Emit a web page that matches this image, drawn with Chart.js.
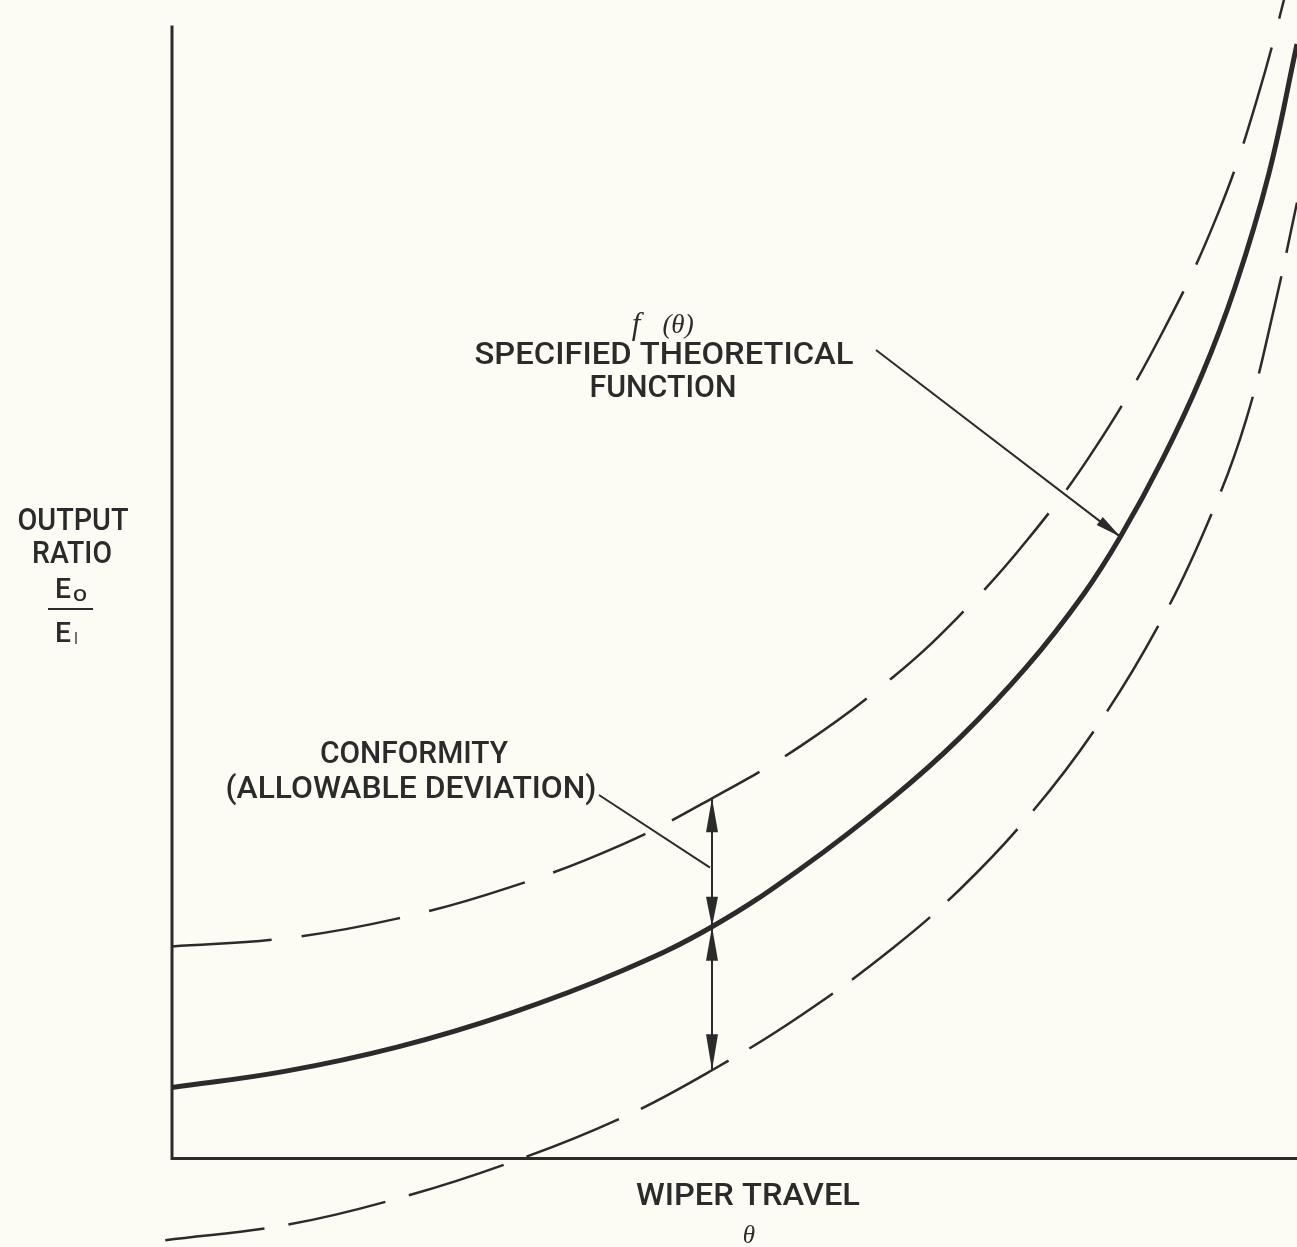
<!DOCTYPE html>
<html>
<head>
<meta charset="utf-8">
<script src="https://cdn.jsdelivr.net/npm/chart.js@4.4.1/dist/chart.umd.min.js"></script>
<style>
  html, body { margin: 0; padding: 0; background: #fdfcf4; }
  #wrap { position: relative; width: 1297px; height: 1247px; }
</style>
</head>
<body>
<div id="wrap"><canvas id="chart"></canvas></div>
<script>
// Wiper travel θ (% of travel) and output ratio Eo/Ei (% of axis height)
const solidTheta = [0, 10, 20, 30, 40, 48, 56, 64, 70, 76, 81, 84.3, 88, 91.5, 94.5, 97.5, 100];
const solidRatio = [6.0, 7.4, 9.5, 12.4, 16.1, 19.9, 25.0, 31.0, 36.2, 42.4, 48.6, 53.6, 60.2, 67.5, 75.2, 85.0, 96.2];

const upperTheta = [0, 10, 20, 30, 40, 48, 56, 64, 70, 76, 82, 88, 93, 96.5, 99.9];
const upperRatio = [18.2, 18.9, 20.6, 23.3, 27.0, 31.0, 35.6, 41.4, 46.8, 53.3, 61.2, 71.2, 81.6, 91.6, 104];

const lowerTheta = [-0.6, 10, 20, 30, 40, 48, 56, 64, 70, 76, 82, 88, 92.5, 95.5, 98, 100];
const lowerRatio = [-7.2, -5.9, -3.6, -0.5, 3.4, 7.5, 12.3, 18.0, 23.1, 29.3, 36.9, 46.5, 55.8, 63.8, 73.5, 82.5];

const CONFORMITY_THETA = 48;    // where the deviation arrows stand
const POINTER_THETA = 84.3;     // where the "specified function" arrow lands
const AXIS_TOP = 97.8;          // top end of the ratio axis line

const INK  = '#2b2b2b';
const FONT = 'Roboto, "Liberation Sans", Arial, sans-serif';
const SERIF = '"Liberation Serif", "DejaVu Serif", serif';

const toPoints = (xs, ys) => xs.map((x, i) => ({ x, y: ys[i] }));
const valueAt  = (xs, ys, x) => ys[xs.indexOf(x)];

// text squeezed to a given width, like the condensed lettering of the original
function fitText(ctx, text, cx, cy, size, width, font) {
    ctx.font = font || `500 ${size}px ${FONT}`;
    const w  = ctx.measureText(text).width;
    const sx = width ? width / w : 1;
    ctx.save();
    ctx.translate(cx, cy);
    ctx.scale(sx, 1);
    ctx.textAlign = 'center';
    ctx.textBaseline = 'middle';
    ctx.fillText(text, 0, 0);
    ctx.restore();
}

function arrowHead(ctx, fromX, fromY, tipX, tipY, len, half) {
    const a  = Math.atan2(tipY - fromY, tipX - fromX);
    const bx = tipX - len * Math.cos(a);
    const by = tipY - len * Math.sin(a);
    const nx = -Math.sin(a) * half;
    const ny =  Math.cos(a) * half;
    ctx.beginPath();
    ctx.moveTo(tipX, tipY);
    ctx.lineTo(bx + nx, by + ny);
    ctx.lineTo(bx - nx, by - ny);
    ctx.closePath();
    ctx.fill();
}

// ── axes (drawn under the curves) ───────────────────────────────────────────
const axesPlugin = {
    id: 'axes',
    beforeDatasetsDraw(chart) {
        const { ctx, scales: { x, y } } = chart;
        const x0 = x.getPixelForValue(0);
        const y0 = y.getPixelForValue(0);
        ctx.save();
        ctx.strokeStyle = INK;
        ctx.lineWidth = 3;
        ctx.beginPath();
        ctx.moveTo(x0, y.getPixelForValue(AXIS_TOP));
        ctx.lineTo(x0, y0 + 1.5);
        ctx.lineTo(x.getPixelForValue(x.max), y0 + 1.5);
        ctx.stroke();
        ctx.restore();
    }
};

// ── labels and arrows ───────────────────────────────────────────────────────
const notesPlugin = {
    id: 'notes',
    afterDatasetsDraw(chart) {
        const { ctx, scales: { x, y } } = chart;
        ctx.save();
        ctx.fillStyle = INK;
        ctx.strokeStyle = INK;

        // y-axis title
        fitText(ctx, 'OUTPUT', 73, 522, 32, 111);
        fitText(ctx, 'RATIO', 72, 555, 32, 80);
        fitText(ctx, 'E', 63, 591, 27, 16);
        fitText(ctx, 'O', 80, 597, 16, 14);
        ctx.lineWidth = 2;
        ctx.beginPath();
        ctx.moveTo(48, 609);
        ctx.lineTo(93, 609);
        ctx.stroke();
        fitText(ctx, 'E', 63, 635, 27, 16);
        fitText(ctx, 'I', 76, 640, 16, 3);

        // x-axis title
        fitText(ctx, 'WIPER TRAVEL', 748, 1197, 32, 224);
        ctx.font = `italic 25px ${SERIF}`;
        ctx.textAlign = 'center';
        ctx.textBaseline = 'middle';
        ctx.fillText('θ', 749, 1236);

        // theoretical function note
        ctx.font = `italic 31px ${SERIF}`;
        ctx.fillText('f', 636, 326);
        ctx.font = `italic 27px ${SERIF}`;
        ctx.fillText('(θ)', 678, 326);
        fitText(ctx, 'SPECIFIED THEORETICAL', 664, 356, 32, 379);
        fitText(ctx, 'FUNCTION', 663, 389, 32, 147);

        const px = x.getPixelForValue(POINTER_THETA);
        const py = y.getPixelForValue(valueAt(solidTheta, solidRatio, POINTER_THETA));
        ctx.lineWidth = 2;
        ctx.beginPath();
        ctx.moveTo(876, 350);
        ctx.lineTo(px, py);
        ctx.stroke();
        arrowHead(ctx, 876, 350, px, py, 26, 5);

        // conformity note
        fitText(ctx, 'CONFORMITY', 414, 755, 32, 188);
        fitText(ctx, '(ALLOWABLE DEVIATION)', 411, 790, 32, 371);

        const cx   = x.getPixelForValue(CONFORMITY_THETA);
        const yUp  = y.getPixelForValue(valueAt(upperTheta, upperRatio, CONFORMITY_THETA));
        const yMid = y.getPixelForValue(valueAt(solidTheta, solidRatio, CONFORMITY_THETA));
        const yLo  = y.getPixelForValue(valueAt(lowerTheta, lowerRatio, CONFORMITY_THETA));

        ctx.lineWidth = 2;
        ctx.beginPath();
        ctx.moveTo(599, 795);
        ctx.lineTo(cx - 2, yUp + (yMid - yUp) * 0.54);
        ctx.stroke();

        ctx.beginPath();
        ctx.moveTo(cx, yUp);
        ctx.lineTo(cx, yLo);
        ctx.stroke();
        arrowHead(ctx, cx, yMid, cx, yUp, 34, 6);
        arrowHead(ctx, cx, yUp, cx, yMid, 30, 6);
        arrowHead(ctx, cx, yLo, cx, yMid, 34, 6);
        arrowHead(ctx, cx, yMid, cx, yLo, 36, 6);

        ctx.restore();
    }
};

const curveStyle = {
    borderColor: INK,
    tension: 0.4,
    pointRadius: 0,
    fill: false
};

new Chart(document.getElementById('chart'), {
    type: 'line',
    data: {
        datasets: [
            { ...curveStyle, label: 'f(θ)',        data: toPoints(solidTheta, solidRatio), borderWidth: 5 },
            { ...curveStyle, label: 'upper limit', data: toPoints(upperTheta, upperRatio), borderWidth: 2.5, borderDash: [100, 30] },
            { ...curveStyle, label: 'lower limit', data: toPoints(lowerTheta, lowerRatio), borderWidth: 2.5, borderDash: [100, 24] }
        ]
    },
    options: {
        responsive: true,
        maintainAspectRatio: false,
        animation: false,
        layout: { padding: 0 },
        plugins: {
            legend:  { display: false },
            tooltip: { enabled: false }
        },
        scales: {
            x: { type: 'linear', min: -15.29, max: 100, display: false },
            y: { type: 'linear', min: -7.78, max: 100, display: false }
        }
    },
    plugins: [axesPlugin, notesPlugin]
});
</script>
</body>
</html>
